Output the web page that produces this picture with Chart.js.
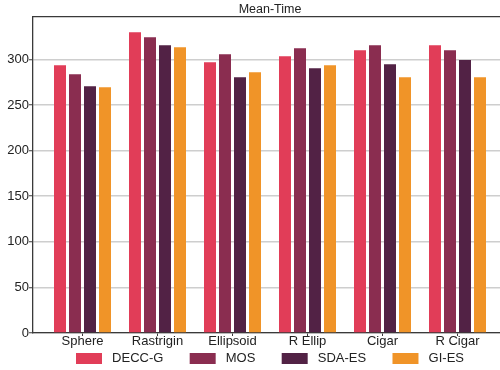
<!DOCTYPE html>
<html>
<head>
<meta charset="utf-8">
<script src="https://cdn.jsdelivr.net/npm/chart.js@4.4.1/dist/chart.umd.min.js"></script>
<style>
    html, body { margin: 0; padding: 0; background: #fff; overflow: hidden; }
    body { width: 500px; height: 370px; }
    #wrap { position: absolute; left: 0; top: 0; width: 507px; height: 370px; }
</style>
</head>
<body>
<div id="wrap"><canvas id="chart"></canvas></div>
<script>
// 数据
const categories = ['Sphere', 'Rastrigin', 'Ellipsoid', 'R Ellip', 'Cigar', 'R Cigar'];
const seriesNames = ['DECC-G', 'MOS', 'SDA-ES', 'GI-ES'];
const seriesColors = ['#e13d58', '#8a2d50', '#522245', '#f09428'];
const deccG = [293.5, 329.8, 297, 303.5, 310, 315.5];
const mos = [283.7, 324.2, 305.6, 312.2, 315.5, 310];
const sdaEs = [270.5, 315.5, 280.5, 290.3, 294.6, 299.3];
const giEs = [269.4, 313.3, 286, 293.5, 280.5, 280.5];
const yTicks = [0, 50, 100, 150, 200, 250, 300];

const seriesValues = [deccG, mos, sdaEs, giEs];
const textColor = '#222';
const spineColor = '#3a3a3a';
const font = "'Liberation Sans', Arial, Helvetica, sans-serif";

const ctx = document.getElementById('chart').getContext('2d');

new Chart(ctx, {
    type: 'bar',
    data: {
        datasets: seriesValues.map((vals, i) => ({
            label: seriesNames[i],
            data: vals.map((v, j) => ({ x: j, y: v })),
            backgroundColor: seriesColors[i],
            borderWidth: 0,
            xAxisID: 'x',
            yAxisID: 'y',
            categoryPercentage: 0.8,
            barPercentage: 0.8
        }))
    },
    options: {
        responsive: true,
        maintainAspectRatio: false,
        animation: false,
        layout: { padding: 0 },
        plugins: {
            tooltip: { enabled: false },
            title: {
                display: true,
                text: 'Mean-Time',
                fullSize: false,
                color: textColor,
                font: { family: font, size: 12.5, weight: 'normal', lineHeight: '14px' },
                padding: { top: 3, bottom: 0 }
            },
            legend: {
                position: 'bottom',
                fullSize: false,
                maxHeight: 19,
                labels: {
                    boxWidth: 26,
                    boxHeight: 11,
                    padding: 1,
                    color: textColor,
                    font: { family: font, size: 13 },
                    // 用空格拉开图例间距
                    generateLabels: function(chart) {
                        return chart.data.datasets.map((ds, i) => ({
                            text: ' ' + ds.label + (i < chart.data.datasets.length - 1 ? '       ' : ''),
                            fillStyle: ds.backgroundColor,
                            strokeStyle: ds.backgroundColor,
                            lineWidth: 0,
                            hidden: false,
                            datasetIndex: i,
                            fontColor: textColor
                        }));
                    }
                }
            }
        },
        scales: {
            x: {
                type: 'linear',
                position: 'bottom',
                min: -0.66,
                max: 5.66,
                offset: false,
                z: 1,
                afterBuildTicks: function(scale) {
                    scale.ticks = categories.map((c, i) => ({ value: i }));
                },
                afterFit: function(scale) {
                    scale.height = 18;
                },
                grid: {
                    display: true,
                    offset: false,
                    drawOnChartArea: false,
                    drawTicks: true,
                    tickLength: 3,
                    tickColor: spineColor,
                    tickWidth: 1
                },
                border: { display: true, color: spineColor, width: 1.3 },
                ticks: {
                    color: textColor,
                    font: { family: font, size: 13, lineHeight: '14px' },
                    padding: -2,
                    maxRotation: 0,
                    autoSkip: false,
                    callback: function(value) {
                        return categories[value];
                    }
                }
            },
            xTop: {
                type: 'linear',
                position: 'top',
                min: 0,
                max: 1,
                grid: { display: false, drawTicks: false },
                ticks: { display: false },
                border: { display: true, color: spineColor, width: 1.3 }
            },
            y: {
                type: 'linear',
                min: 0,
                max: 346.5,
                z: 1,
                afterBuildTicks: function(scale) {
                    scale.ticks = yTicks.map(v => ({ value: v }));
                },
                afterFit: function(scale) {
                    scale.width = 33;
                },
                grid: {
                    color: 'rgba(190, 190, 190, 0.75)',
                    lineWidth: 1.5,
                    drawTicks: true,
                    tickLength: 4,
                    tickColor: spineColor,
                    tickWidth: 1
                },
                border: { display: true, color: spineColor, width: 1.3 },
                ticks: {
                    color: textColor,
                    font: { family: font, size: 13 },
                    padding: 0
                }
            }
        }
    }
});
</script>
</body>
</html>
